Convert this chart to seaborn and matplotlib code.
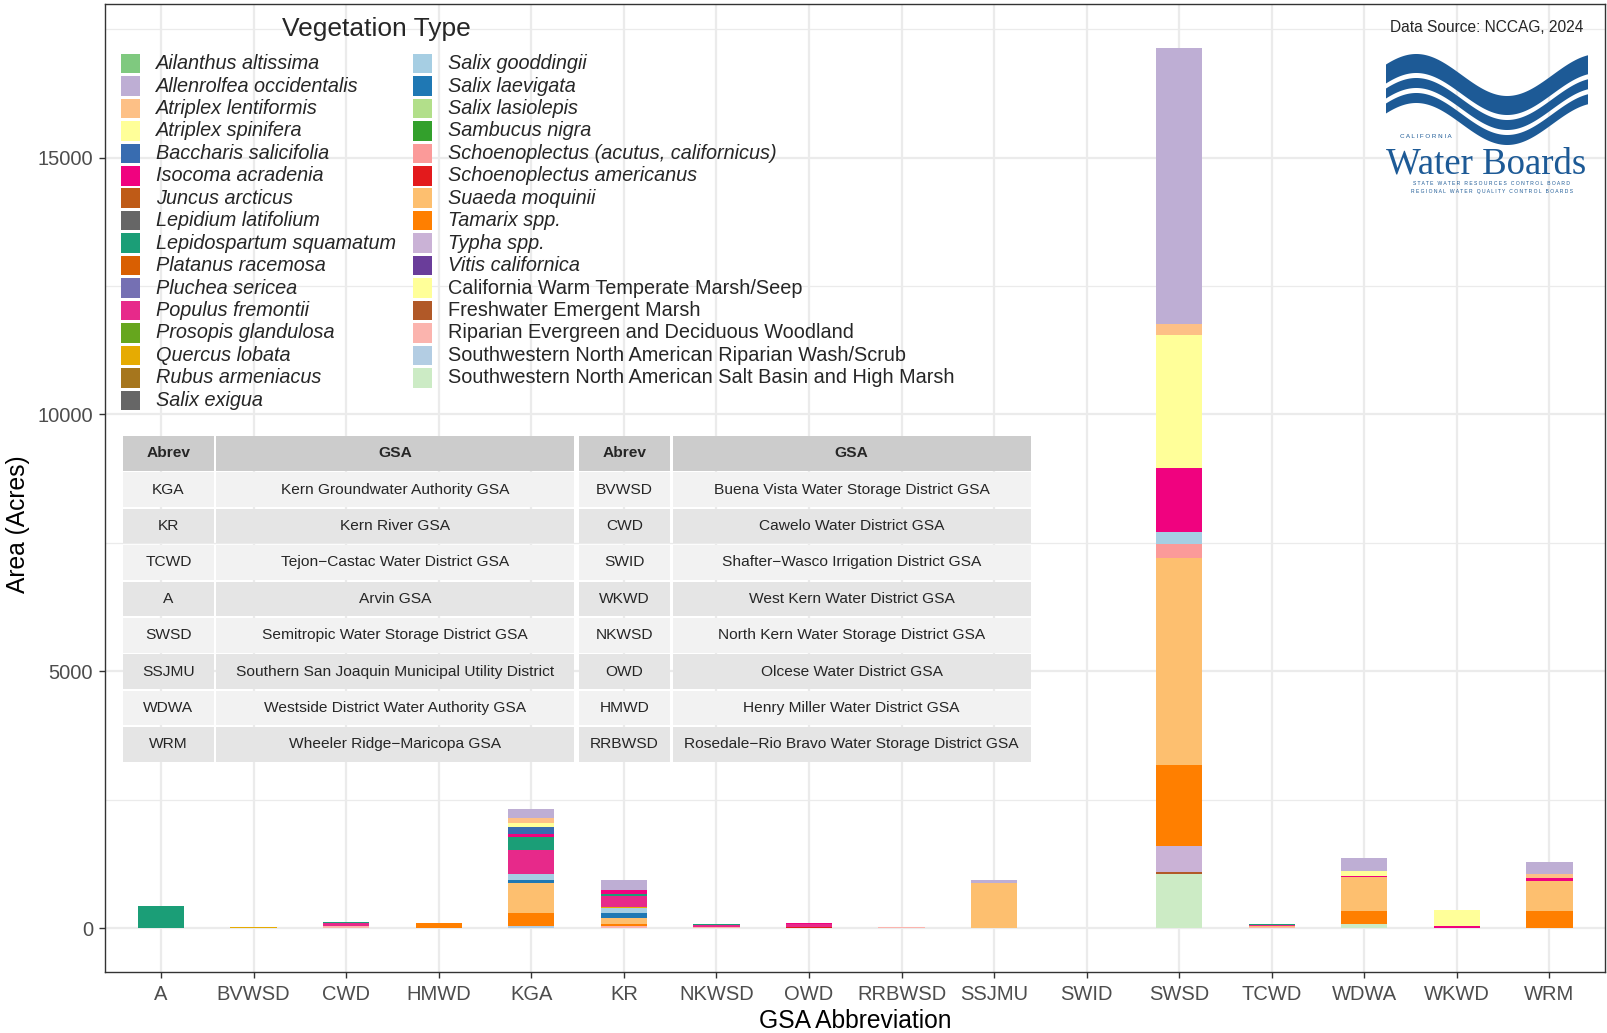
import numpy as np
import pandas as pd
import matplotlib
matplotlib.use("Agg")
import matplotlib.pyplot as plt
import seaborn as sns
from matplotlib.patches import Rectangle, Polygon

W, H = 1608, 1033

# GSA abbreviations on the x axis
gsa_order = ["A", "BVWSD", "CWD", "HMWD", "KGA", "KR", "NKWSD", "OWD",
             "RRBWSD", "SSJMU", "SWID", "SWSD", "TCWD", "WDWA", "WKWD", "WRM"]

# vegetation types (legend order, first one stacks on top)
veg_types = [
    "Ailanthus altissima", "Allenrolfea occidentalis", "Atriplex lentiformis",
    "Atriplex spinifera", "Baccharis salicifolia", "Isocoma acradenia",
    "Juncus arcticus", "Lepidium latifolium", "Lepidospartum squamatum",
    "Platanus racemosa", "Pluchea sericea", "Populus fremontii",
    "Prosopis glandulosa", "Quercus lobata", "Rubus armeniacus", "Salix exigua",
    "Salix gooddingii", "Salix laevigata", "Salix lasiolepis", "Sambucus nigra",
    "Schoenoplectus (acutus, californicus)", "Schoenoplectus americanus",
    "Suaeda moquinii", "Tamarix spp.", "Typha spp.", "Vitis californica",
    "California Warm Temperate Marsh/Seep", "Freshwater Emergent Marsh",
    "Riparian Evergreen and Deciduous Woodland",
    "Southwestern North American Riparian Wash/Scrub",
    "Southwestern North American Salt Basin and High Marsh",
]
veg_colors = [
    "#7FC97F", "#BEAED4", "#FDC086", "#FFFF99", "#386CB0", "#F0027F", "#BF5B17", "#666666",
    "#1B9E77", "#D95F02", "#7570B3", "#E7298A", "#66A61E", "#E6AB02", "#A6761D", "#666666",
    "#A6CEE3", "#1F78B4", "#B2DF8A", "#33A02C", "#FB9A99", "#E31A1C", "#FDBF6F", "#FF7F00",
    "#CAB2D6", "#6A3D9A", "#FFFF99", "#B15928",
    "#FBB4AE", "#B3CDE3", "#CCEBC5",
]
# community types are written upright, species in italics
n_species = 26

# acres of each vegetation type per GSA
area_A = {"Lepidospartum squamatum": 430}
area_BVWSD = {"Quercus lobata": 25}
area_CWD = {"Lepidospartum squamatum": 25, "Populus fremontii": 60,
            "Riparian Evergreen and Deciduous Woodland": 30}
area_HMWD = {"Tamarix spp.": 95}
area_KGA = {"Allenrolfea occidentalis": 181, "Atriplex lentiformis": 97,
            "Atriplex spinifera": 78, "Baccharis salicifolia": 136,
            "Isocoma acradenia": 45, "Lepidospartum squamatum": 260,
            "Populus fremontii": 472, "Salix gooddingii": 117, "Salix laevigata": 58,
            "Suaeda moquinii": 583, "Tamarix spp.": 252,
            "Southwestern North American Riparian Wash/Scrub": 40}
area_KR = {"Allenrolfea occidentalis": 194, "Isocoma acradenia": 72,
           "Lepidospartum squamatum": 45, "Populus fremontii": 214,
           "Quercus lobata": 20, "Salix gooddingii": 90, "Salix laevigata": 107,
           "Suaeda moquinii": 107, "Tamarix spp.": 49,
           "Riparian Evergreen and Deciduous Woodland": 39}
area_NKWSD = {"Lepidospartum squamatum": 25, "Populus fremontii": 45,
              "Riparian Evergreen and Deciduous Woodland": 15}
area_OWD = {"Isocoma acradenia": 25, "Populus fremontii": 60,
            "Schoenoplectus americanus": 20}
area_RRBWSD = {"Riparian Evergreen and Deciduous Woodland": 20}
area_SSJMU = {"Allenrolfea occidentalis": 45, "Suaeda moquinii": 884}
area_SWID = {"Schoenoplectus (acutus, californicus)": 10}
area_SWSD = {"Allenrolfea occidentalis": 5374, "Atriplex lentiformis": 208,
             "Atriplex spinifera": 2594, "Isocoma acradenia": 1243,
             "Salix gooddingii": 227, "Salix laevigata": 15,
             "Schoenoplectus (acutus, californicus)": 272, "Suaeda moquinii": 4014,
             "Tamarix spp.": 1585, "Typha spp.": 499, "Freshwater Emergent Marsh": 40,
             "Southwestern North American Salt Basin and High Marsh": 1058}
area_TCWD = {"Lepidospartum squamatum": 25, "Populus fremontii": 20,
             "Suaeda moquinii": 20, "Riparian Evergreen and Deciduous Woodland": 15}
area_WDWA = {"Allenrolfea occidentalis": 258, "Atriplex spinifera": 97,
             "Isocoma acradenia": 20, "Suaeda moquinii": 654, "Tamarix spp.": 252,
             "Southwestern North American Salt Basin and High Marsh": 87}
area_WKWD = {"Atriplex spinifera": 316, "Isocoma acradenia": 39}
area_WRM = {"Allenrolfea occidentalis": 233, "Atriplex lentiformis": 91,
            "Isocoma acradenia": 50, "Suaeda moquinii": 590, "Tamarix spp.": 326}

# lookup table drawn over the plot
left_abrev = ["KGA", "KR", "TCWD", "A", "SWSD", "SSJMU", "WDWA", "WRM"]
left_gsa = ["Kern Groundwater Authority GSA", "Kern River GSA",
            "Tejon\u2212Castac Water District GSA", "Arvin GSA",
            "Semitropic Water Storage District GSA",
            "Southern San Joaquin Municipal Utility District",
            "Westside District Water Authority GSA", "Wheeler Ridge\u2212Maricopa GSA"]
right_abrev = ["BVWSD", "CWD", "SWID", "WKWD", "NKWSD", "OWD", "HMWD", "RRBWSD"]
right_gsa = ["Buena Vista Water Storage District GSA", "Cawelo Water District GSA",
             "Shafter\u2212Wasco Irrigation District GSA", "West Kern Water District GSA",
             "North Kern Water Storage District GSA", "Olcese Water District GSA",
             "Henry Miller Water District GSA",
             "Rosedale\u2212Rio Bravo Water Storage District GSA"]

by_gsa = {"A": area_A, "BVWSD": area_BVWSD, "CWD": area_CWD, "HMWD": area_HMWD,
          "KGA": area_KGA, "KR": area_KR, "NKWSD": area_NKWSD, "OWD": area_OWD,
          "RRBWSD": area_RRBWSD, "SSJMU": area_SSJMU, "SWID": area_SWID,
          "SWSD": area_SWSD, "TCWD": area_TCWD, "WDWA": area_WDWA,
          "WKWD": area_WKWD, "WRM": area_WRM}

rows = []
for g in gsa_order:
    for v, a in by_gsa[g].items():
        rows.append((g, v, a))
df = pd.DataFrame(rows, columns=["GSA", "Veg", "Area"])
df["GSA"] = pd.Categorical(df["GSA"], categories=gsa_order)

sns.set_theme(style="white")
plt.rcParams["font.family"] = ["Liberation Sans", "DejaVu Sans"]


def fx(px):
    return px / W


def fy(py):
    return 1 - py / H


fig = plt.figure(figsize=(W / 100, H / 100), dpi=100)
p_left, p_right, p_top, p_bot = 105.5, 1605, 4.3, 972
ax = fig.add_axes([fx(p_left), fy(p_bot), (p_right - p_left) / W, (p_bot - p_top) / H])

sns.histplot(data=df, x="GSA", weights="Area", hue="Veg", hue_order=veg_types,
             palette=dict(zip(veg_types, veg_colors)), multiple="stack",
             discrete=True, shrink=0.5, linewidth=0, alpha=1, legend=False, ax=ax)

ax.set_xlim(-0.6, 15.6)
ax.set_ylim(-856, 17986)
ax.set_xticks(range(len(gsa_order)))
ax.set_xticklabels(gsa_order)
ax.set_yticks([0, 5000, 10000, 15000])
ax.set_yticks([2500, 7500, 12500, 17500], minor=True)
ax.grid(True, which="major", color="#EBEBEB", linewidth=1.6)
ax.grid(True, which="minor", axis="y", color="#EBEBEB", linewidth=0.9)
ax.set_axisbelow(True)
ax.tick_params(axis="both", which="major", labelsize=14.5, labelcolor="#4D4D4D",
               color="#333333", length=4, width=1, pad=5, direction="out",
               bottom=True, left=True)
ax.tick_params(axis="y", which="minor", length=0)
for s in ax.spines.values():
    s.set_color("#333333")
    s.set_linewidth(1)
ax.set_xlabel("GSA Abbreviation", fontsize=17.7, color="black", labelpad=4)
ax.set_ylabel("Area (Acres)", fontsize=17.7, color="black")
ax.yaxis.set_label_coords(-0.0503, 0.463)

# legend, drawn by hand to match the two-column layout
fig.text(fx(282), fy(29), "Vegetation Type", fontsize=19, va="center", ha="left")
pitch = 22.45
for i, (v, c) in enumerate(zip(veg_types, veg_colors)):
    col, r = (0, i) if i < 16 else (1, i - 16)
    kx = 121 if col == 0 else 413
    tx = 156 if col == 0 else 448
    yc = 63.6 + r * pitch
    fig.add_artist(Rectangle((fx(kx), fy(yc + 9.7)), 19.5 / W, 19.5 / H,
                             transform=fig.transFigure, facecolor=c, edgecolor="none"))
    fig.text(fx(tx), fy(yc), v, fontsize=14.35, va="center", ha="left",
             style="italic" if i < n_species else "normal")

# GSA lookup table
col_x = [(123, 214), (216.4, 574.3), (579.4, 669.7), (672.7, 1030.6)]
row_pitch = 36.4
cell_h = 34.5
tab_top = 436
header = ["Abrev", "GSA", "Abrev", "GSA"]
for j, (x0, x1) in enumerate(col_x):
    fig.add_artist(Rectangle((fx(x0), fy(tab_top + cell_h)), (x1 - x0) / W, cell_h / H,
                             transform=fig.transFigure, facecolor="#CCCCCC", edgecolor="none"))
    fig.text(fx((x0 + x1) / 2), fy(tab_top + cell_h / 2), header[j], fontsize=11.15,
             fontweight="bold", ha="center", va="center")
body_cols = [left_abrev, left_gsa, right_abrev, right_gsa]
for i in range(len(left_abrev)):
    y0 = tab_top + (i + 1) * row_pitch
    fill = "#F2F2F2" if i % 2 == 0 else "#E5E5E5"
    for j, (x0, x1) in enumerate(col_x):
        fig.add_artist(Rectangle((fx(x0), fy(y0 + cell_h)), (x1 - x0) / W, cell_h / H,
                                 transform=fig.transFigure, facecolor=fill, edgecolor="none"))
        fig.text(fx((x0 + x1) / 2), fy(y0 + cell_h / 2), body_cols[j][i], fontsize=11.15,
                 ha="center", va="center")

# data source note and Water Boards logo
fig.text(fx(1583), fy(27), "Data Source: NCCAG, 2024", fontsize=11.2, ha="right", va="center")
logo_blue = "#1D5A96"
lx0, lx1 = 1386, 1588
xs = np.linspace(lx0, lx1, 200)
t = (xs - lx0) / (lx1 - lx0)
top_edge = 75 - 21 * np.cos(2 * np.pi * (t - 0.15) / 0.9)
for a, b in [(0, 19), (24, 34), (39, 49)]:
    upper = top_edge + a
    lower = top_edge + b
    pts = np.column_stack([np.r_[xs, xs[::-1]], np.r_[upper, lower[::-1]]])
    pts = np.column_stack([pts[:, 0] / W, 1 - pts[:, 1] / H])
    fig.add_artist(Polygon(pts, closed=True, transform=fig.transFigure,
                           facecolor=logo_blue, edgecolor="none"))
fig.text(fx(1400), fy(137), "C A L I F O R N I A", fontsize=4.5, color=logo_blue,
         ha="left", va="center")
fig.text(fx(lx0), fy(164), "Water Boards", fontsize=26.5, color=logo_blue,
         family=["Liberation Serif", "DejaVu Serif"], ha="left", va="center")
fig.text(fx(1492), fy(184), "S T A T E   W A T E R   R E S O U R C E S   C O N T R O L   B O A R D",
         fontsize=3.6, color=logo_blue, ha="center", va="center")
fig.text(fx(1492), fy(192), "R E G I O N A L   W A T E R   Q U A L I T Y   C O N T R O L   B O A R D S",
         fontsize=3.6, color=logo_blue, ha="center", va="center")

fig.savefig("out.png", dpi=100)
